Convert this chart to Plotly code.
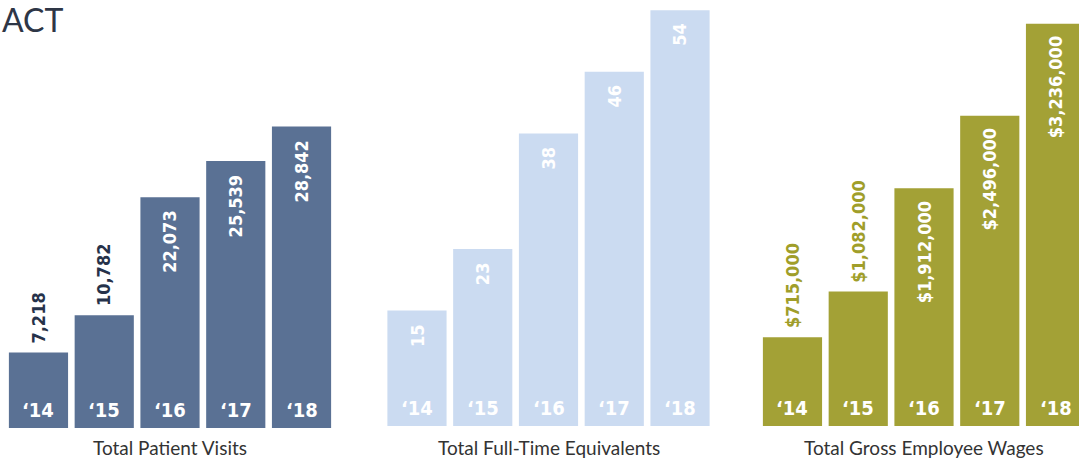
import plotly.graph_objects as go

W, H = 1079, 458

years = ["‘14", "‘15", "‘16", "‘17", "‘18"]

visits = [7218, 10782, 22073, 25539, 28842]
visit_labels = ["7,218", "10,782", "22,073", "25,539", "28,842"]

fte = [15, 23, 38, 46, 54]
fte_labels = ["15", "23", "38", "46", "54"]

wages = [715000, 1082000, 1912000, 2496000, 3236000]
wage_labels = ["$715,000", "$1,082,000", "$1,912,000", "$2,496,000", "$3,236,000"]

titles = ["Total Patient Visits", "Total Full-Time Equivalents", "Total Gross Employee Wages"]

NARROW = "DejaVu Sans Condensed, Liberation Sans Narrow, sans-serif"
LABEL_FONT = "Lato, Open Sans, sans-serif"

# per-panel styling: pixel extents of the category axis, baseline pixel, px per unit
panels = [
    dict(values=visits, labels=visit_labels, color="#5a7194", outside_color="#26324a",
         x0=5.6, x1=334.4, base=428, scale=0.01045, outside=[True, True, False, False, False]),
    dict(values=fte, labels=fte_labels, color="#cbdbf1", outside_color="#ffffff",
         x0=384.1, x1=712.9, base=426, scale=7.7, outside=[False] * 5),
    dict(values=wages, labels=wage_labels, color="#a3a136", outside_color="#a09e2a",
         x0=759.6, x1=1088.4, base=426, scale=0.0001243, outside=[True, True, False, False, False]),
]

fig = go.Figure()
annotations = []

for i, p in enumerate(panels, start=1):
    xa = "x" if i == 1 else f"x{i}"
    ya = "y" if i == 1 else f"y{i}"
    cats = list(range(len(years)))
    fig.add_trace(go.Bar(
        x=cats, y=p["values"], xaxis=xa, yaxis=ya,
        marker=dict(color=p["color"], line=dict(width=0)),
        hoverinfo="skip", showlegend=False,
    ))

    # category axis, clipped to the page on the right if needed
    pitch = (p["x1"] - p["x0"]) / len(years)
    right = min(p["x1"], W)
    rmax = 4.5 - (p["x1"] - right) / pitch
    axis_key = "xaxis" if i == 1 else f"xaxis{i}"
    yaxis_key = "yaxis" if i == 1 else f"yaxis{i}"
    fig.layout[axis_key] = dict(domain=[p["x0"] / W, right / W], range=[-0.5, rmax],
                                 visible=False, anchor=ya, fixedrange=True)
    fig.layout[yaxis_key] = dict(domain=[(H - p["base"]) / H, 1],
                                  range=[0, p["base"] / p["scale"]],
                                  visible=False, anchor=xa, fixedrange=True)

    for c, (v, lab, out) in enumerate(zip(p["values"], p["labels"], p["outside"])):
        # year tag near the bottom of each bar
        annotations.append(dict(
            x=c, y=0, xref=xa, yref=ya, text=f"<b>{years[c]}</b>", showarrow=False,
            yanchor="middle", yshift=18,
            font=dict(family=NARROW, size=20, color="#ffffff"),
        ))
        # rotated value label, above the bar or just inside its top
        annotations.append(dict(
            x=c, y=v, xref=xa, yref=ya, text=f"<b>{lab}</b>", showarrow=False,
            textangle=-90,
            yanchor="bottom" if out else "top",
            yshift=7 if out else -11,
            font=dict(family=NARROW, size=18,
                      color=p["outside_color"] if out else "#ffffff"),
        ))

    # panel caption under the bars
    center = (p["x0"] + p["x1"]) / 2
    annotations.append(dict(
        x=center / W, y=(H - 447) / H, xref="paper", yref="paper",
        text=titles[i - 1], showarrow=False, xanchor="center", yanchor="middle",
        font=dict(family=LABEL_FONT, size=19, color="#333333"),
    ))

annotations.append(dict(
    x=0, y=1.0, xref="paper", yref="paper", text="ACT", showarrow=False,
    xanchor="left", yanchor="top", yshift=2,
    font=dict(family="Lato, Open Sans, sans-serif", size=32, color="#2e3646"),
))

fig.update_layout(
    width=W, height=H,
    margin=dict(l=0, r=0, t=0, b=0),
    paper_bgcolor="#ffffff", plot_bgcolor="rgba(0,0,0,0)",
    bargap=0.10,
    annotations=annotations,
)

fig.write_html("out.html")
